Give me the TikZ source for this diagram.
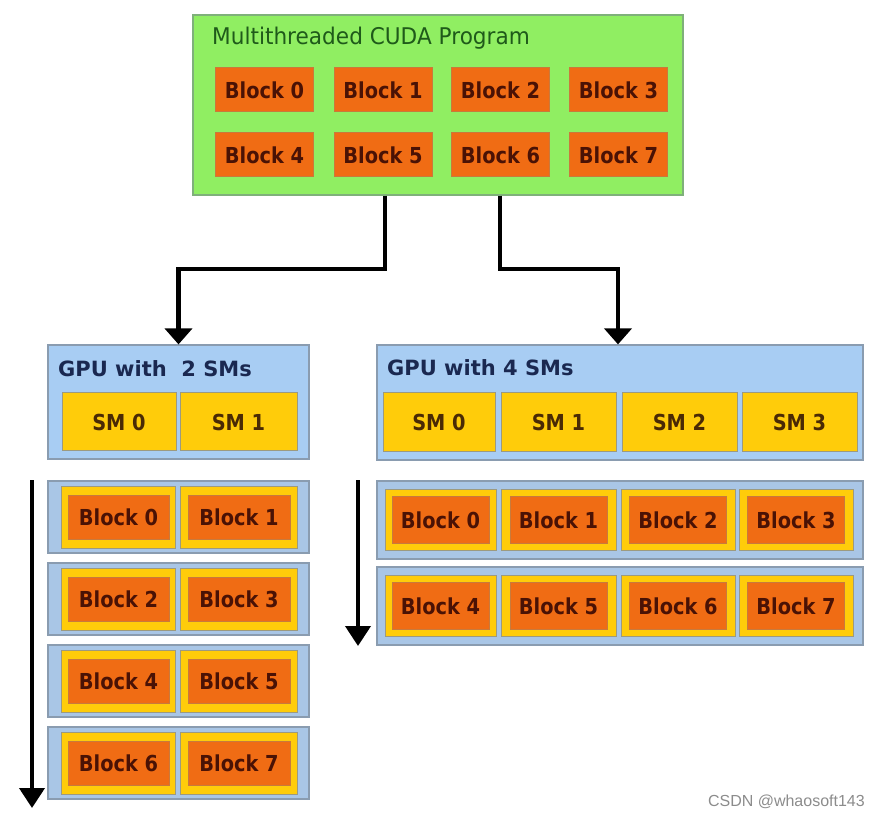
\documentclass[tikz,border=0pt]{standalone}
\usepackage{fontspec}
\setmainfont{DejaVu Sans}
\newfontfamily\blkfont{DejaVu Sans}[FakeStretch=0.88]
\newfontfamily\ttlfont{DejaVu Sans}[FakeStretch=0.94]
\newfontfamily\gpufont{DejaVu Sans}
\newfontfamily\wmfont{Liberation Sans}
\usetikzlibrary{arrows.meta}
\definecolor{pgreen}{HTML}{90EE62}
\definecolor{pgreenb}{HTML}{7FB07A}
\definecolor{borange}{HTML}{F06C14}
\definecolor{borangeb}{HTML}{C87A3C}
\definecolor{btext}{HTML}{4A1205}
\definecolor{smyel}{HTML}{FFCC0A}
\definecolor{smyelb}{HTML}{9C9A80}
\definecolor{smtext}{HTML}{4A2A05}
\definecolor{gblue}{HTML}{A8CDF3}
\definecolor{rblue}{HTML}{A9C6E6}
\definecolor{gblueb}{HTML}{8A9CB0}
\definecolor{gtext}{HTML}{1A2850}
\definecolor{ttext}{HTML}{1F5A1A}
\definecolor{wmgray}{HTML}{8C8C8C}
\begin{document}
\begin{tikzpicture}[x=1pt,y=-1pt,
  prog/.style={draw=pgreenb,fill=pgreen,line width=1.2pt,minimum width=490pt,minimum height=180pt,inner sep=0pt},
  blk/.style={draw=borangeb,fill=borange,line width=1pt,minimum width=#1,minimum height=44pt,inner sep=0pt,
     text=btext,font=\blkfont\bfseries\fontsize{22}{24}\selectfont},
  blk/.default=98pt,
  gpu/.style={draw=gblueb,fill=gblue,line width=1.2pt,inner sep=0pt},
  rowbox/.style={draw=gblueb,fill=rblue,line width=1.2pt,inner sep=0pt},
  sm/.style={draw=smyelb,fill=smyel,line width=1pt,inner sep=0pt,text=smtext,
     font=\blkfont\bfseries\fontsize{22}{24}\selectfont},
  cell/.style={draw=smyelb,fill=smyel,line width=1pt,inner sep=0pt},
  ttl/.style={anchor=west,inner sep=0pt},
  arr/.style={line width=4.5pt,-{Triangle[width=27pt,length=16pt]}},
  varr/.style={line width=4pt,-{Triangle[width=25pt,length=20pt]}}
]
\useasboundingbox (0,0) rectangle (879,818);
\fill[white] (0,0) rectangle (879,818);

% program box
\node[prog] (prog) at (438,105) {};
\node[ttl,text=ttext,font=\ttlfont\fontsize{23}{25}\selectfont] (ptitle) at (212,38) {Multithreaded CUDA Program};
\node[blk] (p0) at (264.5,90) {Block 0};
\node[blk] (p1) at (383,90) {Block 1};
\node[blk] (p2) at (500.5,90) {Block 2};
\node[blk] (p3) at (618.5,90) {Block 3};
\node[blk] (p4) at (264.5,155) {Block 4};
\node[blk] (p5) at (383,155) {Block 5};
\node[blk] (p6) at (500.5,155) {Block 6};
\node[blk] (p7) at (618.5,155) {Block 7};

% GPU with 2 SMs
\node[gpu,minimum width=261pt,minimum height=114pt] (g2) at (178.5,402) {};
\node[ttl,text=gtext,font=\gpufont\bfseries\fontsize{21}{23}\selectfont] (g2t) at (58,369) {GPU with\ \ 2 SMs};
\node[sm,minimum width=114pt,minimum height=58pt] (g2s0) at (119,422) {SM 0};
\node[sm,minimum width=117pt,minimum height=58pt] (g2s1) at (238.5,422) {SM 1};

% GPU with 4 SMs
\node[gpu,minimum width=486pt,minimum height=115pt] (g4) at (620,402.5) {};
\node[ttl,text=gtext,font=\gpufont\bfseries\fontsize{21}{23}\selectfont] (g4t) at (387,368) {GPU with 4 SMs};
\node[sm,minimum width=112pt,minimum height=59pt] (g4s0) at (439,422.5) {SM 0};
\node[sm,minimum width=115pt,minimum height=59pt] (g4s1) at (558.5,422.5) {SM 1};
\node[sm,minimum width=115pt,minimum height=59pt] (g4s2) at (679.5,422.5) {SM 2};
\node[sm,minimum width=115pt,minimum height=59pt] (g4s3) at (799.5,422.5) {SM 3};

% left rows (2 SMs)
\foreach \r/\y/\a/\b in {0/517/0/1,1/599/2/3,2/681/4/5,3/763/6/7}{
  \node[rowbox,minimum width=261pt,minimum height=72pt] (lr\r) at (178.5,\y) {};
  \node[cell,minimum width=114pt,minimum height=62pt] (lc\r a) at (118,\y) {};
  \node[cell,minimum width=117pt,minimum height=62pt] (lc\r b) at (238.5,\y) {};
  \node[blk=101pt] (lb\a) at (118.5,\y) {Block \a};
  \node[blk=102pt] (lb\b) at (239,\y) {Block \b};
}

% right rows (4 SMs)
\foreach \r/\y/\a/\b/\c/\d in {0/520/0/1/2/3,1/606/4/5/6/7}{
  \node[rowbox,minimum width=486pt,minimum height=78pt] (rr\r) at (620,\y) {};
  \node[cell,minimum width=111pt,minimum height=61pt] (rc\r a) at (440.5,\y) {};
  \node[cell,minimum width=115pt,minimum height=61pt] (rc\r b) at (558.5,\y) {};
  \node[cell,minimum width=114pt,minimum height=61pt] (rc\r c) at (678,\y) {};
  \node[cell,minimum width=114pt,minimum height=61pt] (rc\r d) at (796,\y) {};
  \node[blk=97pt,minimum height=47pt] (rb\a) at (440.5,\y) {Block \a};
  \node[blk=97pt,minimum height=47pt] (rb\b) at (558.5,\y) {Block \b};
  \node[blk=97pt,minimum height=47pt] (rb\c) at (678,\y) {Block \c};
  \node[blk=97pt,minimum height=47pt] (rb\d) at (796,\y) {Block \d};
}

% connectors from program to GPUs
\coordinate (bendy) at (0,269);
\coordinate (g4in) at ([xshift=-2pt]g4.north);
\draw[arr] ([xshift=-53pt]prog.south) |- (bendy -| g2.north) -- (g2.north);
\draw[arr] ([xshift=62pt]prog.south) |- (bendy -| g4in) -- (g4in);

% time arrows
\coordinate (lt0) at (32,480);
\coordinate (lt1) at (32,808);
\coordinate (rt0) at (358,480);
\coordinate (rt1) at (358,646);
\draw[varr] (lt0) -- (lt1);
\draw[varr] (rt0) -- (rt1);

% watermark
\node[anchor=east,inner sep=0pt,text=wmgray,font=\wmfont\fontsize{16}{18}\selectfont] (wm) at (865,802) {CSDN @whaosoft143};
\end{tikzpicture}
\end{document}
